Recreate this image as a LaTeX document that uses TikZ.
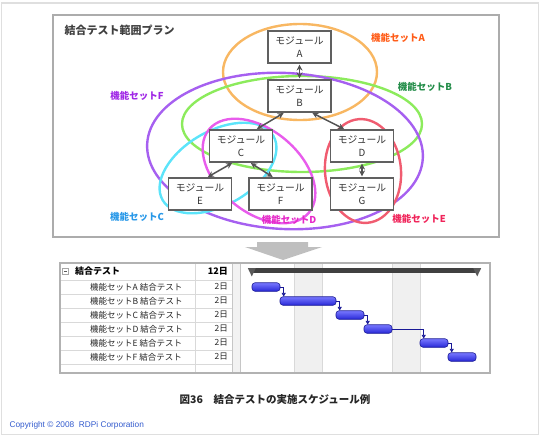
\documentclass[tikz,border=0pt]{standalone}
\usepackage{fontspec}
\setmainfont{Noto Sans CJK JP}
\newfontfamily\latinfont{Liberation Sans}
\usetikzlibrary{positioning, arrows.meta}

\definecolor{ringA}{RGB}{248,183,98}
\definecolor{ringB}{RGB}{140,235,92}
\definecolor{ringC}{RGB}{92,228,250}
\definecolor{ringD}{RGB}{232,92,236}
\definecolor{ringE}{RGB}{240,92,112}
\definecolor{ringF}{RGB}{166,96,240}
\definecolor{labA}{RGB}{255,92,24}
\definecolor{labB}{RGB}{34,140,72}
\definecolor{labC}{RGB}{40,152,232}
\definecolor{labD}{RGB}{230,40,200}
\definecolor{labE}{RGB}{240,36,90}
\definecolor{labF}{RGB}{160,40,230}
\definecolor{barhi}{RGB}{120,120,255}
\definecolor{barlo}{RGB}{40,40,215}
\definecolor{barline}{RGB}{25,25,150}
\definecolor{copyblue}{RGB}{50,90,205}

\begin{document}
\begin{tikzpicture}[
          x=1pt, y=-1pt,
          module/.style={draw=gray!75!black, fill=white, line width=1.1pt, minimum width=63pt, minimum height=32pt, inner sep=0pt, align=center, text=black!80, font=\fontsize{9.8pt}{12.5pt}\selectfont},
          link/.style={gray!65!black, line width=1.5pt, {Stealth[length=6pt,width=6pt]}-{Stealth[length=6pt,width=6pt]}, shorten <=1pt, shorten >=1pt},
          ring/.style={line width=2.4pt},
          setlabel/.style={font=\bfseries\fontsize{9.5pt}{11pt}\selectfont},
          task/.style={draw=barline, top color=barhi, bottom color=barlo, rounded corners=3pt, minimum height=8.5pt, inner sep=0pt, line width=0.6pt},
          sumbar/.style={fill=black!75, minimum height=4.5pt, inner sep=0pt},
          sumtip/.style={fill=black!65},
          dep/.style={barline, line width=0.6pt, -{Triangle[length=3.5pt,width=4pt]}},
          grid/.style={gray!30, line width=0.5pt},
          cell/.style={font=\fontsize{8.5pt}{9pt}\selectfont, text=black!85, inner sep=0pt},
          hdr/.style={font=\bfseries\fontsize{9pt}{10pt}\selectfont, inner sep=0pt}
      ]
      \useasboundingbox (0,0) rectangle (540,436);
      \draw[gray!25, line width=1.5pt] (1.5,3) rectangle (538.5,434.5);

      % scope plan
      \draw[gray!65, line width=1.2pt] (53,15) rectangle (499,237);
      \node[anchor=west, text=black!75, font=\bfseries\fontsize{11pt}{12pt}\selectfont] (title) at (61,30) {結合テスト範囲プラン};

      \draw[ring, ringA] (300,72) ellipse [x radius=77pt, y radius=48pt];
      \draw[ring, ringB] (302,124) ellipse [x radius=120pt, y radius=48pt];
      \draw[ring, ringF, rotate around={-3:(285,151)}] (285,151) ellipse [x radius=138pt, y radius=78pt];
      \draw[ring, ringE, rotate around={5:(363,171)}] (363,171) ellipse [x radius=38pt, y radius=52pt];
      \draw[ring, ringC, rotate around={30:(218,168)}] (218,168) ellipse [x radius=64pt, y radius=37pt];
      \draw[ring, ringD, rotate around={-40:(259,171)}] (259,171) ellipse [x radius=65pt, y radius=41pt];

      \node[module] (A) at (299.5,47) {モジュール\\A};
      \node[module] (B) at (299.5,96) {モジュール\\B};
      \node[module] (C) at (241,146) {モジュール\\C};
      \node[module] (D) at (362,146) {モジュール\\D};
      \node[module] (E) at (200,194) {モジュール\\E};
      \node[module] (F) at (280.5,194) {モジュール\\F};
      \node[module] (G) at (362,194) {モジュール\\G};

      \draw[link] (A) -- (B);
      \draw[link] ([xshift=-15pt]B.south) -- ([xshift=15pt]C.north);
      \draw[link] ([xshift=12pt]B.south) -- ([xshift=-17pt]D.north);
      \draw[link] ([xshift=-8pt]C.south) -- ([xshift=7pt]E.north);
      \draw[link] ([xshift=9pt]C.south) -- ([xshift=-7pt]F.north);
      \draw[link] (D) -- (G);

      \node[setlabel, text=labA] (setA) at (398,38) {機能セットA};
      \node[setlabel, text=labB] (setB) at (425,87) {機能セットB};
      \node[setlabel, text=labF] (setF) at (137,96) {機能セットF};
      \node[setlabel, text=labC] (setC) at (137,217) {機能セットC};
      \node[setlabel, text=labD] (setD) at (289,220) {機能セットD};
      \node[setlabel, text=labE] (setE) at (419,219) {機能セットE};

      % down arrow
      \fill[gray!50] (257,242) -- (308,242) -- (308,247) -- (322,247) -- (283,260) -- (245,247) -- (257,247) -- cycle;

      % schedule
      \fill[white] (60,263) rectangle (490,373);
      \fill[gray!12] (294,263) rectangle (322,373);
      \fill[gray!12] (392,263) rectangle (420,373);
      \draw[gray!30] (294,263) -- (294,373) (322,263) -- (322,373);
      \draw[gray!30] (392,263) -- (392,373) (420,263) -- (420,373);
      \foreach \y in {280,294,...,364} {
          \draw[grid] (60,\y) -- (232,\y);
      }
      \draw[grid] (195,263) -- (195,373);
      \fill[gray!10] (232,263) rectangle (240,373);
      \draw[gray!45] (232,263) -- (232,373) (240,263) -- (240,373);
      \draw[gray!60, line width=1.2pt] (60,263) rectangle (490,373);

      \node[draw=gray!70, minimum size=6pt, inner sep=0pt] (fold) at (65.5,271) {};
      \draw[gray!70!black, line width=0.6pt] ([xshift=1.5pt]fold.west) -- ([xshift=-1.5pt]fold.east);
      \node[hdr, anchor=west] (total) at (75,271.5) {結合テスト};
      \node[hdr, anchor=east] (totald) at (228,271.5) {12日};
      \foreach \i/\s in {1/A,2/B,3/C,4/D,5/E,6/F} {
          \node[cell, anchor=west] (row\i) at (90,{273+14*\i}) {機能セット\s\ 結合テスト};
          \node[cell, anchor=east] (dur\i) at (228,{273+14*\i}) {2日};
      }

      \node[sumbar, minimum width=225pt] (sum) at (364.5,270.5) {};
      \fill[sumtip] ([xshift=-4pt]sum.north west) -- ([xshift=4pt]sum.north west) -- ([yshift=-3.5pt]sum.south west) -- cycle;
      \fill[sumtip] ([xshift=-4pt]sum.north east) -- ([xshift=4pt]sum.north east) -- ([yshift=-3.5pt]sum.south east) -- cycle;

      \node[task, minimum width=28pt] (t1) at (266,287) {};
      \node[task, minimum width=56pt] (t2) at (308,301) {};
      \node[task, minimum width=28pt] (t3) at (350,315) {};
      \node[task, minimum width=28pt] (t4) at (378,329) {};
      \node[task, minimum width=28pt] (t5) at (434,343) {};
      \node[task, minimum width=28pt] (t6) at (462,357) {};

      \foreach \a/\b in {t1/t2,t2/t3,t3/t4,t4/t5,t5/t6} {
          \draw[dep] (\a.east) -| ([xshift=4pt]\b.north west);
      }

      \node[font=\bfseries\fontsize{10.5pt}{12pt}\selectfont, text=black!85] (caption) at (275,400) {図36　結合テストの実施スケジュール例};
      \node[anchor=west, text=copyblue, font=\latinfont\fontsize{8.3pt}{9pt}\selectfont] (copyright) at (6,425) {Copyright © 2008\ \ RDPi Corporation};

      \end{tikzpicture}
\end{document}
